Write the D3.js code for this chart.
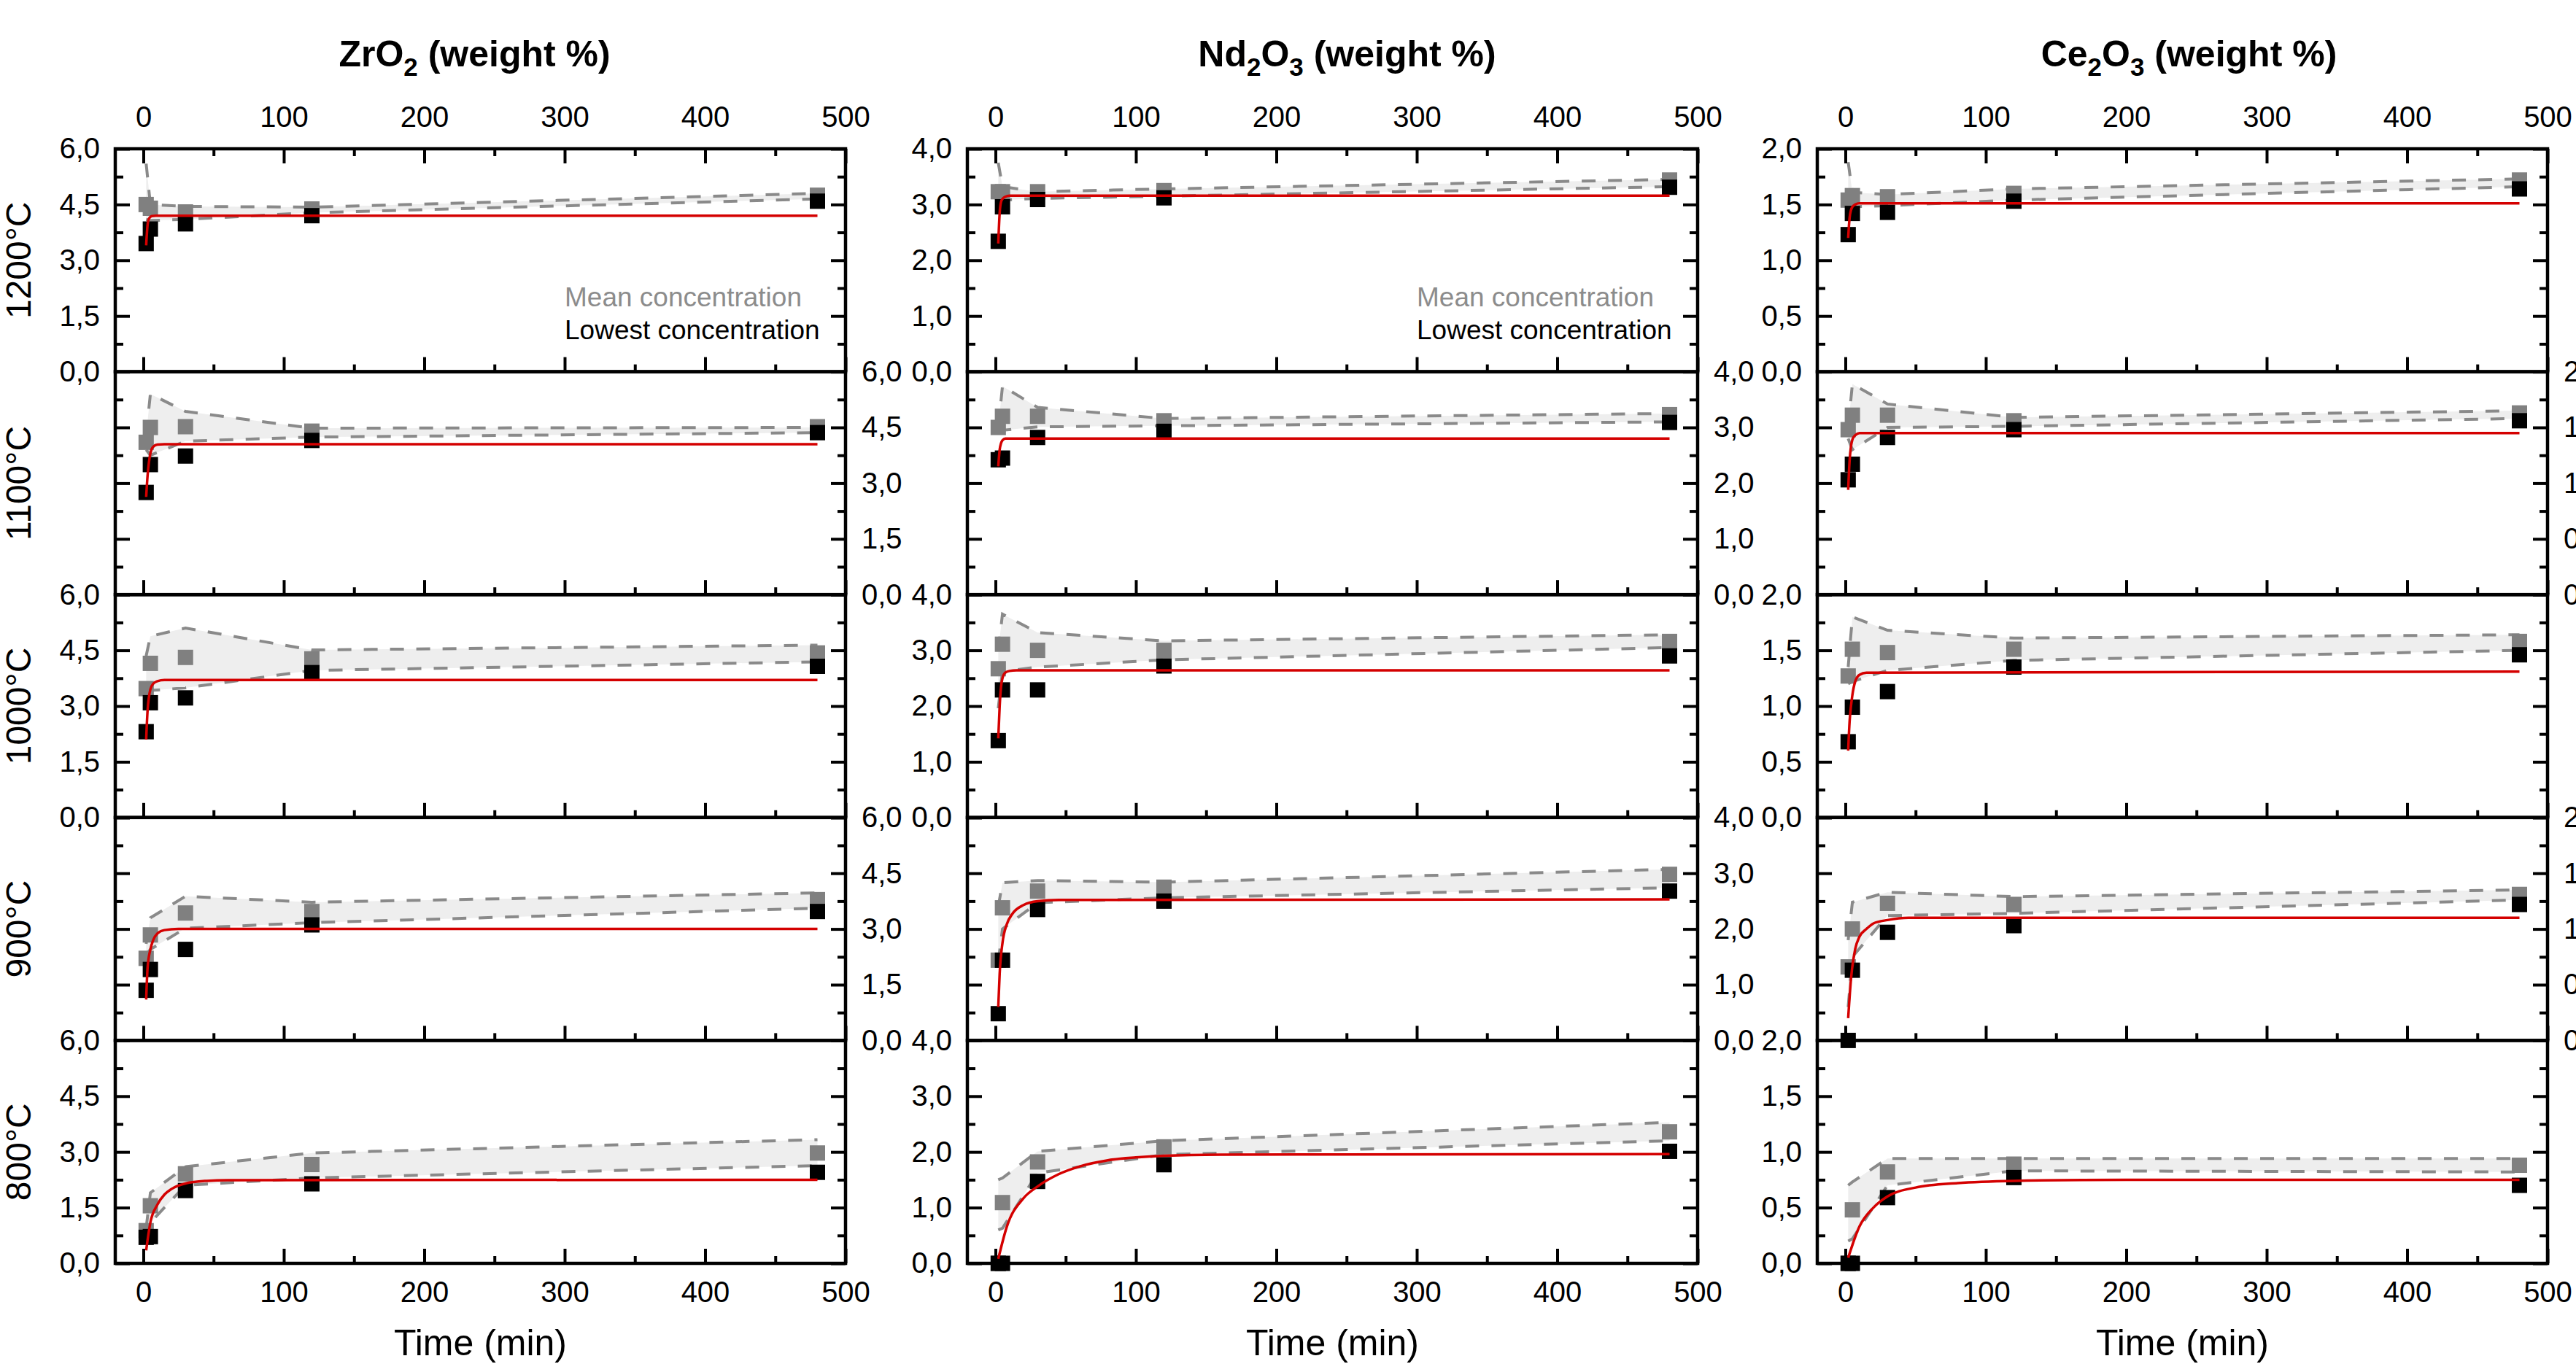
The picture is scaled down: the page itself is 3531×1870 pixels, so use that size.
<!DOCTYPE html>
<html>
<head>
<meta charset="utf-8">
<script src="https://cdn.jsdelivr.net/npm/d3@7"></script>
<style>
  html, body { margin: 0; padding: 0; background: #ffffff; }
  svg { display: block; font-family: "Liberation Sans", Arial, sans-serif; }
</style>
</head>
<body>
<svg id="chart" width="3531" height="1870"></svg>
<script>
// ---- categories & tick labels ----
const temperatures = ["1200°C", "1100°C", "1000°C", "900°C", "800°C"];
const oxideTitles = [
  [["ZrO", 0], ["2", 1], [" (weight %)", 0]],
  [["Nd", 0], ["2", 1], ["O", 0], ["3", 1], [" (weight %)", 0]],
  [["Ce", 0], ["2", 1], ["O", 0], ["3", 1], [" (weight %)", 0]]
];
const times = [2, 5, 30, 120, 480];              // sampling times (min)
const xMajor = [0, 100, 200, 300, 400, 500];
const xMinor = [50, 150, 250, 350, 450];
const yMax = [6, 4, 2];
const yMajor = [[0, 1.5, 3, 4.5, 6], [0, 1, 2, 3, 4], [0, 0.5, 1, 1.5, 2]];
const yMinor = [[0.75, 2.25, 3.75, 5.25], [0.5, 1.5, 2.5, 3.5], [0.25, 0.75, 1.25, 1.75]];

// ---- ZrO2 (rows: 1200, 1100, 1000, 900, 800 °C) ----
const zro2Mean = [
  [4.50, 4.40, 4.30, 4.38, 4.75],
  [4.10, 4.50, 4.52, 4.40, 4.52],
  [3.47, 4.15, 4.31, 4.27, 4.43],
  [2.21, 2.84, 3.43, 3.47, 3.79],
  [0.88, 1.55, 2.41, 2.66, 2.97]
];
const zro2Lowest = [
  [3.45, 3.84, 3.98, 4.20, 4.59],
  [2.75, 3.50, 3.73, 4.15, 4.36],
  [2.31, 3.09, 3.22, 3.90, 4.07],
  [1.35, 1.91, 2.45, 3.11, 3.47],
  [0.70, 0.72, 1.96, 2.14, 2.45]
];
const zro2Upper = [
  [5.60, 4.50, 4.45, 4.43, 4.80],
  [4.30, 5.40, 4.93, 4.48, 4.50],
  [4.35, 4.88, 5.10, 4.51, 4.64],
  [2.60, 3.30, 3.88, 3.72, 3.97],
  [0.95, 1.90, 2.60, 2.97, 3.33]
];
const zro2Lower = [
  [4.10, 4.07, 4.10, 4.28, 4.65],
  [3.90, 3.75, 4.13, 4.24, 4.36],
  [3.41, 3.42, 3.49, 3.96, 4.19],
  [2.30, 2.45, 3.02, 3.17, 3.56],
  [0.60, 1.10, 2.10, 2.30, 2.63]
];
const zro2Fit = [
  [[2, 3.40], [3, 3.95], [4, 4.12], [6, 4.19], [9, 4.20], [480, 4.20]],
  [[2, 2.63], [3, 3.20], [4, 3.57], [5, 3.80], [7, 3.98], [10, 4.04], [15, 4.05], [480, 4.05]],
  [[2, 2.10], [3, 2.88], [4, 3.25], [5, 3.45], [7, 3.60], [10, 3.67], [15, 3.70], [480, 3.70]],
  [[2, 1.10], [3, 1.95], [5, 2.45], [7, 2.70], [10, 2.88], [15, 2.97], [25, 3.00], [480, 3.00]],
  [[2, 0.35], [5, 1.10], [10, 1.58], [15, 1.85], [20, 2.00], [30, 2.15], [45, 2.22], [60, 2.24], [480, 2.25]]
];

// ---- Nd2O3 ----
const nd2o3Mean = [
  [3.23, 3.23, 3.23, 3.25, 3.44],
  [3.00, 3.20, 3.20, 3.12, 3.23],
  [2.67, 3.11, 3.00, 3.00, 3.16],
  [1.44, 2.38, 2.68, 2.75, 2.98],
  [0.00, 1.09, 1.82, 2.09, 2.36]
];
const nd2o3Lowest = [
  [2.34, 2.96, 3.09, 3.12, 3.31],
  [2.42, 2.45, 2.82, 2.93, 3.09],
  [1.38, 2.29, 2.29, 2.72, 2.90],
  [0.48, 1.44, 2.35, 2.50, 2.68],
  [0.00, 0.00, 1.47, 1.77, 2.01]
];
const nd2o3Upper = [
  [3.75, 3.32, 3.23, 3.28, 3.45],
  [3.00, 3.74, 3.36, 3.16, 3.25],
  [3.00, 3.65, 3.32, 3.17, 3.28],
  [2.40, 2.83, 2.87, 2.84, 3.07],
  [1.50, 1.53, 2.01, 2.20, 2.53]
];
const nd2o3Lower = [
  [3.10, 3.08, 3.11, 3.15, 3.32],
  [2.90, 2.95, 3.01, 3.03, 3.10],
  [1.96, 2.62, 2.70, 2.83, 3.05],
  [1.40, 2.00, 2.47, 2.56, 2.74],
  [0.60, 0.63, 1.62, 1.95, 2.20]
];
const nd2o3Fit = [
  [[2, 2.30], [3, 2.85], [4, 3.05], [5, 3.10], [7, 3.14], [10, 3.16], [480, 3.16]],
  [[2, 2.30], [3, 2.60], [4, 2.72], [5, 2.77], [7, 2.80], [10, 2.80], [480, 2.80]],
  [[2, 1.42], [3, 2.00], [4, 2.35], [5, 2.50], [7, 2.60], [10, 2.63], [15, 2.64], [480, 2.64]],
  [[2, 0.60], [3, 1.20], [5, 1.75], [8, 2.08], [12, 2.27], [20, 2.43], [30, 2.50], [45, 2.52], [480, 2.53]],
  [[2, 0.08], [8, 0.65], [20, 1.17], [30, 1.38], [45, 1.60], [60, 1.74], [80, 1.85], [100, 1.90], [120, 1.93], [160, 1.95], [480, 1.96]]
];

// ---- Ce2O3 ----
const ce2o3Mean = [
  [1.54, 1.58, 1.57, 1.60, 1.72],
  [1.48, 1.61, 1.61, 1.56, 1.63],
  [1.27, 1.51, 1.48, 1.51, 1.58],
  [0.66, 1.00, 1.23, 1.22, 1.31],
  [0.00, 0.48, 0.82, 0.89, 0.88]
];
const ce2o3Lowest = [
  [1.23, 1.42, 1.43, 1.53, 1.64],
  [1.03, 1.17, 1.41, 1.48, 1.56],
  [0.68, 0.99, 1.13, 1.35, 1.46],
  [0.00, 0.63, 0.97, 1.03, 1.22],
  [0.00, 0.00, 0.59, 0.77, 0.70]
];
const ce2o3Upper = [
  [1.88, 1.61, 1.59, 1.64, 1.73],
  [1.50, 1.89, 1.71, 1.59, 1.65],
  [1.35, 1.80, 1.68, 1.61, 1.64],
  [0.90, 1.24, 1.33, 1.29, 1.35],
  [0.70, 0.73, 0.94, 0.94, 0.94]
];
const ce2o3Lower = [
  [1.47, 1.48, 1.49, 1.54, 1.66],
  [1.40, 1.30, 1.50, 1.51, 1.58],
  [1.20, 1.22, 1.32, 1.41, 1.50],
  [0.30, 0.75, 1.12, 1.14, 1.26],
  [0.20, 0.22, 0.70, 0.83, 0.82]
];
const ce2o3Fit = [
  [[2, 1.20], [3, 1.38], [4, 1.45], [5, 1.48], [7, 1.50], [10, 1.51], [480, 1.51]],
  [[2, 0.94], [3, 1.20], [4, 1.33], [5, 1.39], [7, 1.43], [10, 1.45], [480, 1.45]],
  [[2, 0.60], [3, 0.86], [4, 1.00], [5, 1.10], [7, 1.22], [10, 1.28], [15, 1.30], [480, 1.31]],
  [[2, 0.20], [4, 0.55], [7, 0.82], [10, 0.93], [15, 1.00], [20, 1.05], [30, 1.08], [45, 1.10], [480, 1.10]],
  [[2, 0.05], [10, 0.33], [20, 0.50], [30, 0.60], [50, 0.68], [80, 0.72], [120, 0.74], [200, 0.75], [480, 0.75]]
];

const meanSets = [zro2Mean, nd2o3Mean, ce2o3Mean];
const lowestSets = [zro2Lowest, nd2o3Lowest, ce2o3Lowest];
const upperSets = [zro2Upper, nd2o3Upper, ce2o3Upper];
const lowerSets = [zro2Lower, nd2o3Lower, ce2o3Lower];
const fitSets = [zro2Fit, nd2o3Fit, ce2o3Fit];

// ---- layout ----
const svg = d3.select("#chart");
const colLeft = [158, 1326, 2491];
const titleShift = [-8, 20, 9];
const panelW = 1001;
const rowTop0 = 204;
const rowH = 305.6;
const sq = 21;
const tickFont = 40;
const grayMark = "#808080";
const grayLine = "#8a8a8a";
const bandFill = "#eeeeee";
const red = "#d40000";
const fmtComma = v => d3.format(".1f")(v).replace(".", ",");

function styleAxis(g) {
  g.select(".domain").remove();
  g.attr("font-family", null).attr("font-size", null);
  g.selectAll(".tick line").attr("stroke", "#000").attr("stroke-width", 4);
  g.selectAll(".tick text").attr("fill", "#000").style("font-size", tickFont + "px");
}

for (let c = 0; c < 3; c++) {
  const x0 = colLeft[c], x1 = colLeft[c] + panelW;
  const x = d3.scaleLinear().domain([-20, 500]).range([x0, x1]);
  const cx = (x0 + x1) / 2;

  // column title with subscripts
  const title = svg.append("text")
    .attr("x", cx + titleShift[c]).attr("y", 91)
    .attr("text-anchor", "middle")
    .attr("font-weight", "bold")
    .style("font-size", "50px");
  let lowered = false;
  oxideTitles[c].forEach(([s, isSub]) => {
    const t = title.append("tspan").text(s);
    if (isSub) {
      t.style("font-size", "35px").attr("dy", 13);
      lowered = true;
    } else if (lowered) {
      t.attr("dy", -13);
      lowered = false;
    }
  });

  // time axis title
  svg.append("text")
    .attr("x", cx).attr("y", 1858)
    .attr("text-anchor", "middle")
    .style("font-size", "50px")
    .text("Time (min)");

  for (let r = 0; r < 5; r++) {
    const top = rowTop0 + r * rowH, bottom = top + rowH;
    const y = d3.scaleLinear().domain([0, yMax[c]]).range([bottom, top]);
    const g = svg.append("g");

    // spread band between the dashed envelopes
    const band = times.map((t, i) => ({ t, lo: lowerSets[c][r][i], hi: upperSets[c][r][i] }));
    g.append("path").datum(band)
      .attr("d", d3.area().x(d => x(d.t)).y0(d => y(d.lo)).y1(d => y(d.hi)))
      .attr("fill", bandFill);
    ["hi", "lo"].forEach(k => {
      g.append("path").datum(band)
        .attr("d", d3.line().x(d => x(d.t)).y(d => y(d[k])))
        .attr("fill", "none")
        .attr("stroke", grayLine)
        .attr("stroke-width", 4)
        .attr("stroke-dasharray", "19,17");
    });

    // mean (gray) and lowest (black) concentrations
    [[meanSets, grayMark], [lowestSets, "#000"]].forEach(([set, col]) => {
      g.selectAll(null).data(times.map((t, i) => [t, set[c][r][i]])).enter()
        .append("rect")
        .attr("x", d => x(d[0]) - sq / 2)
        .attr("y", d => y(d[1]) - sq / 2)
        .attr("width", sq).attr("height", sq)
        .attr("fill", col);
    });

    // fitted kinetics curve
    g.append("path").datum(fitSets[c][r])
      .attr("d", d3.line().curve(d3.curveMonotoneX).x(d => x(d[0])).y(d => y(d[1])))
      .attr("fill", "none")
      .attr("stroke", red)
      .attr("stroke-width", 3.5);

    // y axes: labels alternate left / right by row
    const leftLab = (r % 2 === 0);
    g.append("g").attr("transform", `translate(${x0},0)`)
      .call(d3.axisLeft(y).tickValues(yMajor[c]).tickSize(-20).tickPadding(21)
        .tickFormat(leftLab ? fmtComma : () => ""))
      .call(styleAxis);
    g.append("g").attr("transform", `translate(${x0},0)`)
      .call(d3.axisLeft(y).tickValues(yMinor[c]).tickSize(-11).tickFormat(() => ""))
      .call(styleAxis);
    g.append("g").attr("transform", `translate(${x1},0)`)
      .call(d3.axisRight(y).tickValues(yMajor[c]).tickSize(-20).tickPadding(22)
        .tickFormat(leftLab ? () => "" : fmtComma))
      .call(styleAxis);
    g.append("g").attr("transform", `translate(${x1},0)`)
      .call(d3.axisRight(y).tickValues(yMinor[c]).tickSize(-11).tickFormat(() => ""))
      .call(styleAxis);

    // x axes
    g.append("g").attr("transform", `translate(0,${bottom})`)
      .call(d3.axisBottom(x).tickValues(xMajor).tickSize(-20).tickPadding(25)
        .tickFormat(r === 4 ? d3.format("d") : () => ""))
      .call(styleAxis);
    g.append("g").attr("transform", `translate(0,${bottom})`)
      .call(d3.axisBottom(x).tickValues(xMinor).tickSize(-10).tickFormat(() => ""))
      .call(styleAxis);
    if (r === 0) {
      g.append("g").attr("transform", `translate(0,${top})`)
        .call(d3.axisTop(x).tickValues(xMajor).tickSize(-20).tickPadding(30)
          .tickFormat(d3.format("d")))
        .call(styleAxis);
      g.append("g").attr("transform", `translate(0,${top})`)
        .call(d3.axisTop(x).tickValues(xMinor).tickSize(-10).tickFormat(() => ""))
        .call(styleAxis);
    }

    // panel frame
    g.append("rect")
      .attr("x", x0).attr("y", top)
      .attr("width", panelW).attr("height", rowH)
      .attr("fill", "none")
      .attr("stroke", "#000")
      .attr("stroke-width", 4.5);

    // legend in the top row of the first two columns
    if (r === 0 && c < 2) {
      g.append("text").attr("x", x0 + 616).attr("y", top + 216)
        .attr("fill", "#8c8c8c").style("font-size", "37px").text("Mean concentration");
      g.append("text").attr("x", x0 + 616).attr("y", top + 261)
        .attr("fill", "#000").style("font-size", "37px").text("Lowest concentration");
    }
  }
}

// temperature labels
temperatures.forEach((t, r) => {
  const cy = rowTop0 + r * rowH + rowH / 2;
  svg.append("text")
    .attr("transform", `translate(42,${cy}) rotate(-90)`)
    .attr("text-anchor", "middle")
    .style("font-size", "48px")
    .text(t);
});
</script>
</body>
</html>
